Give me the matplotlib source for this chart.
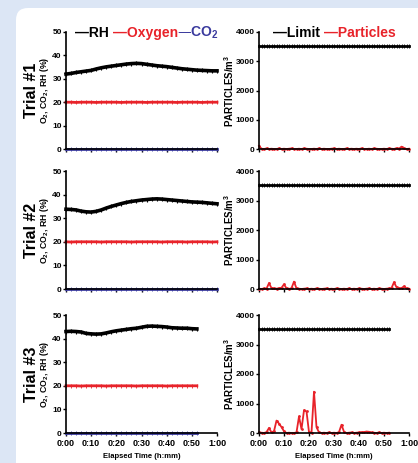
import matplotlib
matplotlib.use("Agg")
import matplotlib.pyplot as plt
from matplotlib.patches import FancyBboxPatch
from matplotlib.transforms import IdentityTransform

plt.rcParams['font.family'] = ['Liberation Sans', 'DejaVu Sans']
plt.rcParams['font.weight'] = 'bold'
plt.rcParams['mathtext.default'] = 'regular'

# ---- data ----
t2 = list(range(0, 61, 2))          # 2-min samples, trials 1 and 2
t2_short = list(range(0, 53, 2))    # trial 3 ended at 0:52
t1m = list(range(0, 61))            # 1-min particle samples
t1m_short = list(range(0, 53))

rh_1 = [32.0, 32.3, 32.7, 33.0, 33.3, 33.6, 34.2, 34.7, 35.1, 35.4, 35.7,
        36.0, 36.3, 36.5, 36.6, 36.5, 36.2, 35.9, 35.6, 35.4, 35.2,
        34.9, 34.6, 34.3, 34.1, 33.9, 33.7, 33.6, 33.5, 33.4, 33.4]
rh_2 = [33.8, 33.7, 33.5, 33.0, 32.7, 32.6, 32.9, 33.5, 34.3, 35.0, 35.6,
        36.2, 36.7, 37.1, 37.4, 37.7, 37.9, 38.1, 38.2, 38.1, 37.9,
        37.7, 37.5, 37.3, 37.1, 36.9, 36.8, 36.7, 36.5, 36.3, 36.1]
rh_3 = [43.0, 43.1, 43.0, 42.8, 42.2, 42.0, 41.9, 42.0, 42.4, 42.9, 43.3,
        43.6, 43.9, 44.2, 44.4, 44.8, 45.2, 45.3, 45.2, 45.1, 44.9,
        44.6, 44.5, 44.4, 44.4, 44.2, 44.1]

o2_1 = [20.0, 20.0, 19.9, 20.0, 20.0, 20.0, 19.9, 20.0, 20.0, 20.0, 20.0,
        19.9, 20.0, 20.0, 20.0, 20.0, 19.9, 20.0, 20.0, 20.0, 20.0,
        20.0, 19.9, 20.0, 20.0, 20.0, 20.0, 19.9, 20.0, 20.0, 20.0]
o2_2 = [20.0, 19.9, 20.0, 20.0, 20.0, 20.0, 20.0, 19.9, 20.0, 20.0, 20.0,
        20.0, 20.0, 19.9, 20.0, 20.0, 20.0, 20.0, 20.0, 19.9, 20.0,
        20.0, 20.0, 20.0, 19.9, 20.0, 20.0, 20.0, 20.0, 19.9, 20.0]
o2_3 = [20.0, 20.0, 20.0, 19.9, 20.0, 20.0, 20.0, 20.0, 19.9, 20.0, 20.0,
        20.0, 20.0, 20.0, 19.9, 20.0, 20.0, 20.0, 20.0, 20.0, 19.9,
        20.0, 20.0, 20.0, 20.0, 20.0, 20.0]

co2_1 = [0.1, 0.1, 0.1, 0.1, 0.1, 0.1, 0.1, 0.1, 0.1, 0.1, 0.1,
         0.1, 0.1, 0.1, 0.1, 0.1, 0.1, 0.1, 0.1, 0.1, 0.1,
         0.1, 0.1, 0.1, 0.1, 0.1, 0.1, 0.1, 0.1, 0.1, 0.1]
co2_2 = [0.1, 0.1, 0.1, 0.1, 0.1, 0.1, 0.1, 0.1, 0.1, 0.1, 0.1,
         0.1, 0.1, 0.1, 0.1, 0.1, 0.1, 0.1, 0.1, 0.1, 0.1,
         0.1, 0.1, 0.1, 0.1, 0.1, 0.1, 0.1, 0.1, 0.1, 0.1]
co2_3 = [0.1, 0.1, 0.1, 0.1, 0.1, 0.1, 0.1, 0.1, 0.1, 0.1, 0.1,
         0.1, 0.1, 0.1, 0.1, 0.1, 0.1, 0.1, 0.1, 0.1, 0.1,
         0.1, 0.1, 0.1, 0.1, 0.1, 0.1]

particles_1 = [110, 10, 0, 20, 0, 10, 0, 0, 20, 0, 10,
               0, 10, 20, 0, 0, 10, 0, 20, 10, 0,
               0, 10, 0, 20, 0, 10, 0, 0, 10, 20,
               0, 10, 0, 0, 20, 0, 10, 0, 10, 0,
               20, 0, 0, 10, 0, 20, 10, 0, 0, 10,
               0, 20, 10, 0, 30, 10, 80, 20, 0, 10]
particles_2 = [10, 0, 20, 10, 200, 30, 20, 10, 30, 40, 160,
               20, 0, 30, 250, 20, 10, 0, 10, 20, 0,
               10, 0, 20, 10, 0, 10, 20, 0, 10, 0,
               20, 10, 0, 10, 0, 20, 0, 10, 0, 20,
               10, 0, 10, 20, 0, 10, 0, 20, 10, 0,
               10, 20, 30, 230, 60, 20, 30, 90, 20, 10]
particles_3 = [20, 10, 0, 30, 170, 20, 60, 420, 320, 200, 60,
               0, 10, 0, 0, 20, 560, 130, 770, 730, 30,
               10, 1400, 200, 20, 0, 10, 0, 20, 0, 10,
               0, 30, 280, 40, 0, 10, 20, 0, 10, 20,
               30, 30, 50, 40, 20, 10, 0, 20, 0, 10,
               0, 10]

limit_1 = [3520] * 61
limit_2 = [3520] * 61
limit_3 = [3520] * 53

trials = ["Trial #1", "Trial #2", "Trial #3"]
xtick_min = [0, 10, 20, 30, 40, 50, 60]
xtick_lbl = ["0:00", "0:10", "0:20", "0:30", "0:40", "0:50", "1:00"]

BLACK = "#000000"
RED = "#e8232a"
BLUE = "#3b3b9e"

W, H = 418, 463
fig = plt.figure(figsize=(W / 100, H / 100), dpi=100)
fig.patch.set_facecolor("#dce6f5")
panel = FancyBboxPatch((16, -30), 440, 455 + 30,
                       boxstyle="round,pad=0,rounding_size=12",
                       transform=IdentityTransform(),
                       facecolor="white", edgecolor="none", figure=fig, zorder=-5)
fig.patches.append(panel)


def px_axes(x0, x1, ytop, ybot):
    ax = fig.add_axes((x0 / W, (H - ybot) / H, (x1 - x0) / W, (ybot - ytop) / H))
    ax.patch.set_alpha(0)
    return ax


def style(ax, show_x):
    for s in ["top", "right"]:
        ax.spines[s].set_visible(False)
    for s in ["left", "bottom"]:
        ax.spines[s].set_linewidth(1.2)
    ax.tick_params(axis="y", direction="out", length=2, width=1, labelsize=6, pad=1)
    ax.tick_params(axis="x", direction="out", length=2.5, width=1, labelsize=6.5, pad=1.5)
    ax.set_xlim(0, 60)
    ax.set_xticks(xtick_min)
    if show_x:
        ax.set_xticklabels(xtick_lbl)
    else:
        ax.set_xticklabels([])
    for lab in ax.get_xticklabels() + ax.get_yticklabels():
        lab.set_fontweight("bold")


rows = [(32, 149), (171, 289), (315, 433)]
env = [(t2, rh_1, o2_1, co2_1), (t2, rh_2, o2_2, co2_2), (t2_short, rh_3, o2_3, co2_3)]
part = [(t1m, particles_1, limit_1), (t1m, particles_2, limit_2),
        (t1m_short, particles_3, limit_3)]

for i, (ytop, ybot) in enumerate(rows):
    last = i == 2
    axl = px_axes(66, 217, ytop, ybot)
    tt, rh, o2, co2 = env[i]
    axl.plot(tt, rh, color=BLACK, lw=2.6, marker="|", ms=2.5, mew=0.8, clip_on=False)
    axl.plot(tt, o2, color=RED, lw=2.0, marker="|", ms=3, mew=0.6, clip_on=False)
    axl.plot(tt, co2, color=BLUE, lw=2.0, marker="|", ms=2.5, mew=0.6, clip_on=False)
    axl.set_ylim(0, 50)
    axl.set_yticks([0, 10, 20, 30, 40, 50])
    style(axl, last)
    axl.set_ylabel("O$_2$, CO$_2$, RH (%)", fontsize=6.3, fontweight="bold")
    axl.yaxis.set_label_coords(-0.1, 0.5)
    fig.text(31 / W, 1 - (ytop + ybot) / 2 / H, trials[i], rotation=90,
             ha="center", va="center", fontsize=11.5, fontweight="bold")

    axr = px_axes(259, 409, ytop, ybot)
    tp, pp, lim = part[i]
    axr.plot(tp, lim, color=BLACK, lw=2.0, marker="|", ms=2.5, mew=0.6, clip_on=False)
    axr.plot(tp, pp, color=RED, lw=1.3, marker="o", ms=1.0, clip_on=False)
    axr.set_ylim(0, 4000)
    axr.set_yticks([0, 1000, 2000, 3000, 4000])
    style(axr, last)
    axr.set_ylabel("PARTICLES/m$^3$", fontsize=7, fontweight="bold")
    axr.yaxis.set_label_coords(-0.155, 0.5)

# legends drawn as coloured text above the top row
for x, txt, c in [(75, "\u2014RH", BLACK), (113, "\u2014Oxygen", RED),
                  (177, "\u2014CO$_2$", BLUE), (273, "\u2014Limit", BLACK),
                  (324, "\u2014Particles", RED)]:
    fig.text(x / W, 1 - 33 / H, txt, color=c, fontsize=10, fontweight="bold",
             ha="left", va="center")

for xc in [(66 + 217) / 2, (259 + 409) / 2]:
    fig.text(xc / W, 1 - 456 / H, "Elapsed Time (h:mm)", ha="center", va="center",
             fontsize=5.5, fontweight="bold")

fig.savefig("out.png", dpi=100)
